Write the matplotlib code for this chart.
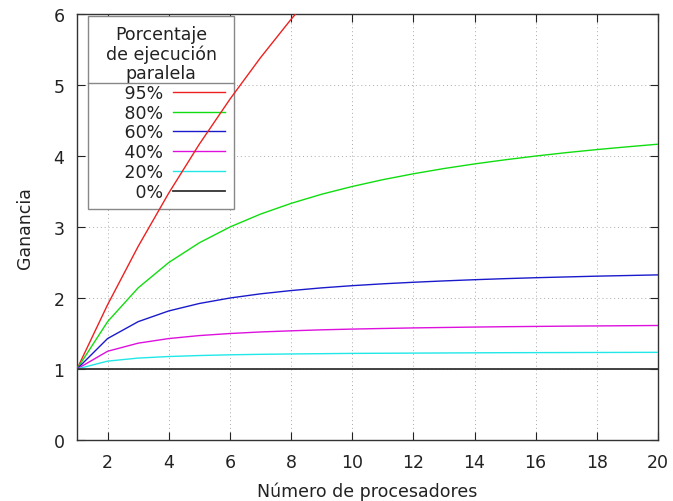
import matplotlib
matplotlib.use("Agg")
from matplotlib import pyplot as plt
from matplotlib.lines import Line2D

# Number of processors
procesadores = list(range(1, 21))

# Speedup for each parallel fraction
ganancia_95 = [1.0, 1.905, 2.727, 3.478, 4.167, 4.8, 5.385, 5.926, 6.429, 6.897,
               7.333, 7.742, 8.125, 8.485, 8.824, 9.143, 9.444, 9.730, 10.0, 10.256]
ganancia_80 = [1.0, 1.667, 2.143, 2.5, 2.778, 3.0, 3.182, 3.333, 3.462, 3.571,
               3.667, 3.75, 3.824, 3.889, 3.947, 4.0, 4.048, 4.091, 4.130, 4.167]
ganancia_60 = [1.0, 1.429, 1.667, 1.818, 1.923, 2.0, 2.059, 2.105, 2.143, 2.174,
               2.2, 2.222, 2.241, 2.258, 2.273, 2.286, 2.297, 2.308, 2.317, 2.326]
ganancia_40 = [1.0, 1.25, 1.364, 1.429, 1.471, 1.5, 1.522, 1.538, 1.552, 1.5625,
               1.571, 1.579, 1.585, 1.591, 1.596, 1.6, 1.604, 1.607, 1.610, 1.613]
ganancia_20 = [1.0, 1.111, 1.154, 1.176, 1.190, 1.2, 1.207, 1.212, 1.216, 1.220,
               1.222, 1.224, 1.226, 1.228, 1.230, 1.231, 1.232, 1.233, 1.234, 1.235]
ganancia_0 = [1.0] * 20

etiquetas = ["95%", "80%", "60%", "40%", "20%", "\u20070%"]
colores = ["#ee2020", "#10dd10", "#1a1acc", "#dd10dd", "#20e8e8", "#333333"]
series = [ganancia_95, ganancia_80, ganancia_60, ganancia_40, ganancia_20, ganancia_0]

plt.rcParams["font.family"] = ["DejaVu Sans"]
plt.rcParams["font.size"] = 12.5

fig = plt.figure(figsize=(6.73, 5.02), dpi=100)
ax = fig.add_axes([0.1144, 0.1215, 0.8633, 0.8485])

for valores, etiqueta, color in zip(series, etiquetas, colores):
    lw = 1.3 if valores is ganancia_0 else 1.0
    # leading spaces push the right-aligned labels next to their line samples
    ax.plot(procesadores, valores, color=color, lw=lw, label="     " + etiqueta, zorder=3)

ax.set_xlim(1, 20)
ax.set_ylim(0, 6)
ax.set_xticks(range(2, 21, 2))
ax.set_yticks(range(0, 7))
ax.tick_params(direction="in", length=6, top=True, right=True, color="#222222",
               labelcolor="#222222", pad=9)
ax.grid(True, linestyle=(0, (1, 3)), color="#aaaaaa", lw=0.7)
ax.set_axisbelow(True)
for s in ax.spines.values():
    s.set_color("#333333")
    s.set_linewidth(1.0)

ax.set_xlabel("Número de procesadores", color="#222222", labelpad=8)
ax.set_ylabel("Ganancia", color="#222222", labelpad=14)

leg = ax.legend(title="Porcentaje\nde ejecución\nparalela", loc="upper left",
                bbox_to_anchor=(0.019, 0.995), borderaxespad=0, markerfirst=False,
                fancybox=False, framealpha=1, edgecolor="#888888",
                handlelength=3.0, handletextpad=0.6, labelspacing=0.1,
                borderpad=0.5, fontsize=12.5, title_fontsize=12.5)
leg.get_frame().set_linewidth(1.0)
leg.set_zorder(2.5)
leg.get_title().set_color("#222222")
leg.get_title().set_multialignment("center")
leg.get_title().set_linespacing(1.1)
for t in leg.get_texts():
    t.set_color("#222222")

# separator line under the legend title
fig.canvas.draw()
bb = leg.get_window_extent()
tb = leg.get_title().get_window_extent()
inv = fig.transFigure.inverted()
x0, y0 = inv.transform((bb.x0, tb.y0 - 1))
x1, _ = inv.transform((bb.x1, tb.y0 - 1))
fig.add_artist(Line2D([x0, x1], [y0, y0], transform=fig.transFigure,
                      color="#888888", lw=1.0, zorder=2.6))

fig.savefig("out.png", dpi=100)
